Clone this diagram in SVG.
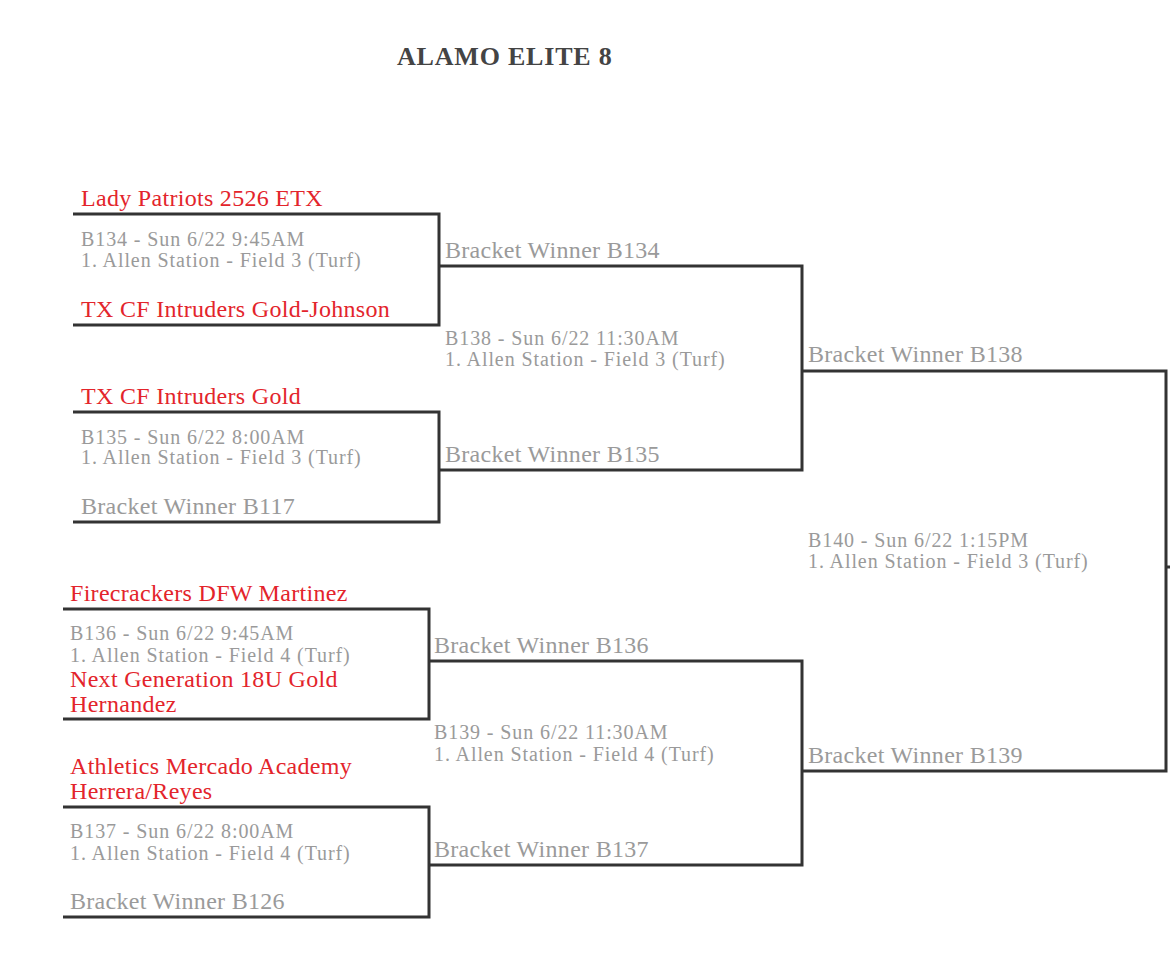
<svg xmlns="http://www.w3.org/2000/svg" width="1170" height="978" viewBox="0 0 1170 978">
<style>
text{font-family:"Liberation Serif","Times New Roman",serif}
.t{font-size:24px;fill:#e3242b;letter-spacing:0.3px}
.w{font-size:24px;fill:#9a9a9a;letter-spacing:0.3px}
.g{font-size:20px;fill:#9a9a9a;letter-spacing:0.9px}
.ttl{font-size:26px;font-weight:bold;fill:#444;letter-spacing:0.8px}
.c path{fill:none;stroke:#333;stroke-width:3}
</style>
<rect width="1170" height="978" fill="#fff"/>
<text class="ttl" x="397" y="65">ALAMO ELITE 8</text>
<g class="c" id="connectors">
<path d="M73,214H439V325H73"/>
<path d="M73,412H439V522H73"/>
<path d="M439,266H802V470H439"/>
<path d="M63,609H429V719H63"/>
<path d="M63,807H429V917H63"/>
<path d="M429,661H802V865H429"/>
<path d="M802,371H1166V771H802"/>
<path d="M1166,567H1170"/>
</g>
<g id="b134">
<text class="t" x="81" y="206">Lady Patriots 2526 ETX</text>
<text class="g" x="81" y="246">B134 - Sun 6/22 9:45AM</text>
<text class="g" x="81" y="267">1. Allen Station - Field 3 (Turf)</text>
<text class="t" x="81" y="317">TX CF Intruders Gold-Johnson</text>
</g>
<g id="b135">
<text class="t" x="81" y="404">TX CF Intruders Gold</text>
<text class="g" x="81" y="444">B135 - Sun 6/22 8:00AM</text>
<text class="g" x="81" y="464">1. Allen Station - Field 3 (Turf)</text>
<text class="w" x="81" y="514">Bracket Winner B117</text>
</g>
<g id="b138">
<text class="w" x="445" y="258">Bracket Winner B134</text>
<text class="g" x="445" y="345">B138 - Sun 6/22 11:30AM</text>
<text class="g" x="445" y="366">1. Allen Station - Field 3 (Turf)</text>
<text class="w" x="445" y="462">Bracket Winner B135</text>
</g>
<g id="b136">
<text class="t" x="70" y="601">Firecrackers DFW Martinez</text>
<text class="g" x="70" y="640">B136 - Sun 6/22 9:45AM</text>
<text class="g" x="70" y="662">1. Allen Station - Field 4 (Turf)</text>
<text class="t" x="70" y="687">Next Generation 18U Gold</text>
<text class="t" x="70" y="712">Hernandez</text>
</g>
<g id="b137">
<text class="t" x="70" y="774">Athletics Mercado Academy</text>
<text class="t" x="70" y="799">Herrera/Reyes</text>
<text class="g" x="70" y="838">B137 - Sun 6/22 8:00AM</text>
<text class="g" x="70" y="860">1. Allen Station - Field 4 (Turf)</text>
<text class="w" x="70" y="909">Bracket Winner B126</text>
</g>
<g id="b139">
<text class="w" x="434" y="653">Bracket Winner B136</text>
<text class="g" x="434" y="739">B139 - Sun 6/22 11:30AM</text>
<text class="g" x="434" y="761">1. Allen Station - Field 4 (Turf)</text>
<text class="w" x="434" y="857">Bracket Winner B137</text>
</g>
<g id="b140">
<text class="w" x="808" y="362">Bracket Winner B138</text>
<text class="g" x="808" y="547">B140 - Sun 6/22 1:15PM</text>
<text class="g" x="808" y="568">1. Allen Station - Field 3 (Turf)</text>
<text class="w" x="808" y="763">Bracket Winner B139</text>
</g>
</svg>
